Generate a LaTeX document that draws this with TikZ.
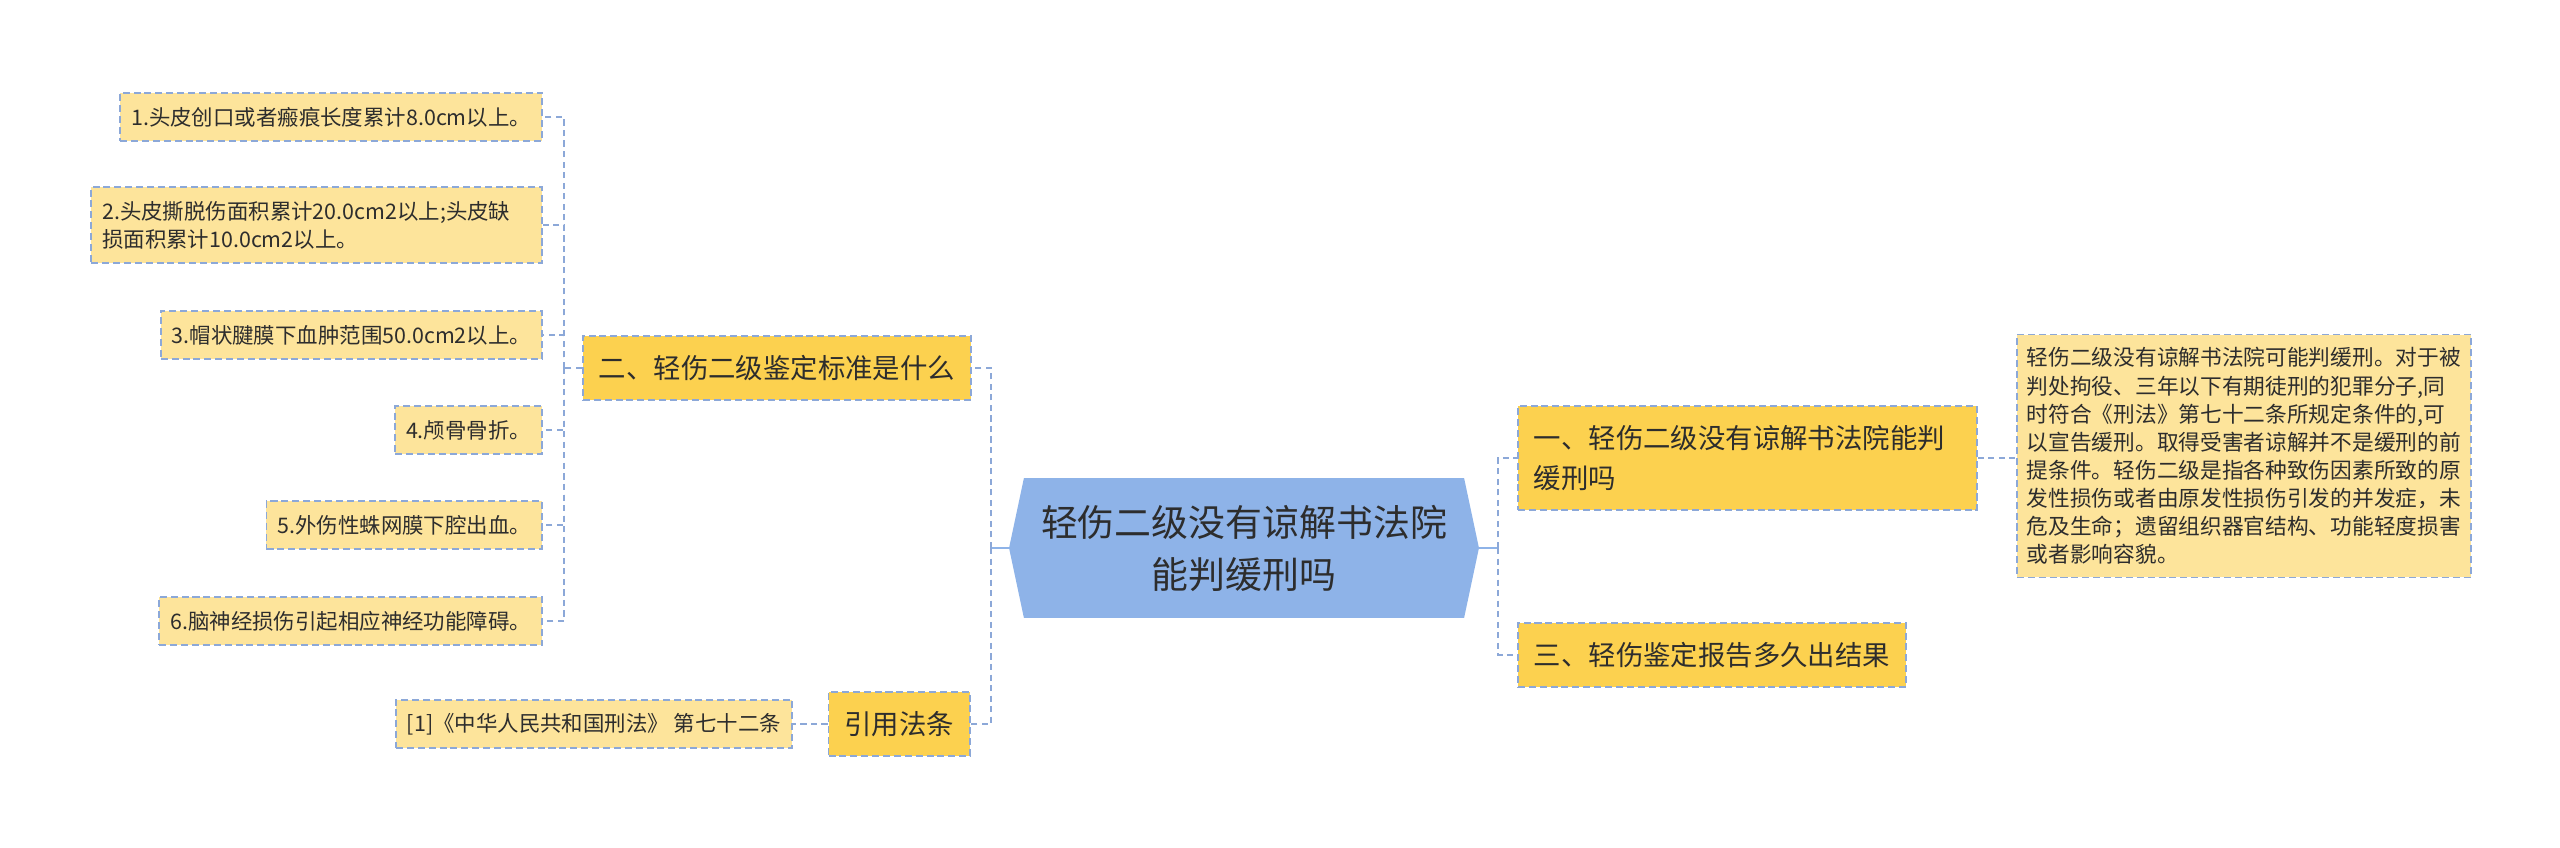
\documentclass[tikz,border=0pt]{standalone}
\usepackage{fontspec}
\setmainfont{Noto Sans CJK SC}
\usetikzlibrary{positioning, shapes.symbols}
\definecolor{rootblue}{RGB}{142,179,232}
\definecolor{topicgold}{RGB}{252,209,79}
\definecolor{leafyellow}{RGB}{253,228,155}
\definecolor{linkblue}{RGB}{140,168,216}
\definecolor{inkgray}{RGB}{45,45,45}

\begin{document}
\begin{tikzpicture}[x=0.02cm, y=-0.02cm]

        % Styles
        \tikzset{
            root/.style={signal, signal to=west and east, signal pointer angle=156, fill=rootblue, draw=none, text=inkgray, align=center, minimum width=9.4cm, minimum height=2.8cm, font=\fontsize{21}{29.6}\selectfont},
            topic/.style={fill=topicgold, draw=linkblue, line width=1pt, dash pattern=on 4pt off 2.2pt, text=inkgray, align=left, inner xsep=0.32cm, minimum height=1.28cm, font=\fontsize{15.6}{22.8}\selectfont},
            leaf/.style={fill=leafyellow, draw=linkblue, line width=1pt, dash pattern=on 4pt off 2.2pt, text=inkgray, align=left, inner xsep=0.22cm, minimum height=0.96cm, font=\fontsize{12.2}{16}\selectfont},
            link/.style={draw=linkblue, line width=1.2pt, dash pattern=on 3.5pt off 2.5pt},
            stem/.style={draw=rootblue, line width=1.5pt}
        }
        \useasboundingbox (0,0) rectangle (2560,848);

        % --- CENTRE ---
        \node[root] (root) at (1244,548) {轻伤二级没有谅解书法院\\能判缓刑吗};

        % --- GAUCHE : standards ---
        \node[topic, anchor=east] (stdq) at (972,368) {二、轻伤二级鉴定标准是什么};
        \node[leaf, anchor=east] (leafA) at (543,117) {1.头皮创口或者瘢痕长度累计8.0cm以上。};
        \node[leaf, anchor=east, text width=8.58cm, minimum height=1.52cm] (leafB) at (543,225) {2.头皮撕脱伤面积累计20.0cm2以上;头皮缺\\损面积累计10.0cm2以上。};
        \node[leaf, anchor=east] (leafC) at (543,335) {3.帽状腱膜下血肿范围50.0cm2以上。};
        \node[leaf, anchor=east] (leafD) at (543,430) {4.颅骨骨折。};
        \node[leaf, anchor=east] (leafE) at (543,525) {5.外伤性蛛网膜下腔出血。};
        \node[leaf, anchor=east] (leafF) at (543,621) {6.脑神经损伤引起相应神经功能障碍。};

        % --- GAUCHE : loi ---
        \node[topic, anchor=east] (lawref) at (971,724) {引用法条};
        \node[leaf, anchor=east] (lawitem) at (793,724) {[1]《中华人民共和国刑法》 第七十二条};

        % --- DROITE ---
        \node[topic, anchor=west, text width=8.54cm, minimum height=2.08cm] (judge) at (1517,458) {一、轻伤二级没有谅解书法院能判\\缓刑吗};
        \node[topic, anchor=west] (report) at (1517,655) {三、轻伤鉴定报告多久出结果};
        \node[leaf, anchor=west, inner xsep=0.2cm, minimum height=4.86cm, font=\fontsize{12.35}{16}\selectfont] (answer) at (2016,456) {轻伤二级没有谅解书法院可能判缓刑。对于被\\判处拘役、三年以下有期徒刑的犯罪分子,同\\时符合《刑法》第七十二条所规定条件的,可\\以宣告缓刑。取得受害者谅解并不是缓刑的前\\提条件。轻伤二级是指各种致伤因素所致的原\\发性损伤或者由原发性损伤引发的并发症，未\\危及生命；遗留组织器官结构、功能轻度损害\\或者影响容貌。};

        % Connecteurs
        \coordinate (cbusL) at (991,548);
        \coordinate (cbusR) at (1498,548);
        \coordinate (lbus) at (564,368);
        \draw[stem] (root.west) -- (cbusL);
        \draw[stem] (root.east) -- (cbusR);
        \foreach \n in {stdq, lawref}
            \draw[link] (cbusL) |- (\n.east);
        \foreach \n in {judge, report}
            \draw[link] (cbusR) |- (\n.west);
        \draw[link] (stdq.west) -- (lbus);
        \foreach \n in {leafA, leafB, leafC, leafD, leafE, leafF}
            \draw[link] (lbus) |- (\n.east);
        \draw[link] (lawref.west) -- (lawitem.east);
        \draw[link] (judge.east) -- (judge.east -| answer.west);

    \end{tikzpicture}
\end{document}
